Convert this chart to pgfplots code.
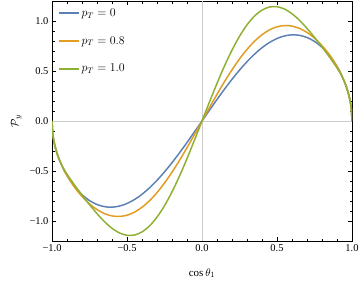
\documentclass[border=0pt]{standalone}
\usepackage{fontspec}
\setmainfont{Liberation Serif}
\usepackage{pgfplots}
\pgfplotsset{compat=1.18}
\definecolor{mblue}{RGB}{94,129,181}
\definecolor{morange}{RGB}{225,156,36}
\definecolor{mgreen}{RGB}{143,176,50}
\begin{document}
\begin{tikzpicture}
\begin{axis}[
  scale only axis,
  width=300bp, height=240bp,
  xmin=-1, xmax=1, ymin=-1.2, ymax=1.2,
  xtick={-1,-0.5,0,0.5,1},
  xticklabels={−1.0,−0.5,0.0,0.5,1.0},
  ytick={-1,-0.5,0,0.5,1},
  yticklabels={−1.0,−0.5,0.0,0.5,1.0},
  minor x tick num=4, minor y tick num=4,
  tick align=inside,
  major tick length=4bp, minor tick length=2.5bp,
  axis line style={line width=0.9pt},
  every tick/.style={black, line width=0.7pt},
  tick label style={font=\fontsize{10.5}{12}\selectfont},
  xlabel={$\cos\theta_1$},
  ylabel={$\mathcal{P}_y$},
  label style={font=\fontsize{11}{13}\selectfont},
  xlabel shift=10bp,
  ylabel shift=1bp,
  legend style={at={(0.008,0.985)}, anchor=north west, draw=none, fill=none,
    row sep=14.5pt, font=\fontsize{12}{14}\selectfont, cells={anchor=west}},
  legend image code/.code={\draw[mark repeat=2,mark phase=2,#1] plot coordinates {(0bp,0bp) (10bp,0bp) (20bp,0bp)};},
  legend image post style={line width=2pt},
  every axis plot/.append style={line width=1.5pt},
]
\addplot[gray!40, line width=0.6pt, forget plot] coordinates {(0,-1.2) (0,1.2)};
\addplot[gray!40, line width=0.6pt, forget plot] coordinates {(-1,0) (1,0)};
\addplot[mblue, smooth] coordinates {
(-1,0) (-0.995,-0.1242) (-0.99,-0.1755) (-0.98,-0.2480) (-0.96,-0.3499) (-0.93,-0.4604)
(-0.9,-0.5456) (-0.85,-0.6553) (-0.8,-0.7367) (-0.75,-0.7957) (-0.7,-0.8352)
(-0.65,-0.8568) (-0.6,-0.8617) (-0.55,-0.8507) (-0.5,-0.8250) (-0.45,-0.7853)
(-0.4,-0.7327) (-0.35,-0.6683) (-0.3,-0.5933) (-0.25,-0.5090) (-0.2,-0.4169)
(-0.15,-0.3184) (-0.1,-0.2150) (-0.05,-0.1083) (0,0)
(0.05,0.1083) (0.1,0.2150) (0.15,0.3184) (0.2,0.4169) (0.25,0.5090) (0.3,0.5933)
(0.35,0.6683) (0.4,0.7327) (0.45,0.7853) (0.5,0.8250) (0.55,0.8507) (0.6,0.8617)
(0.65,0.8568) (0.7,0.8352) (0.75,0.7957) (0.8,0.7367) (0.85,0.6553) (0.9,0.5456)
(0.93,0.4604) (0.96,0.3499) (0.98,0.2480) (0.99,0.1755) (0.995,0.1242) (1,0)
};
\addlegendentry{$p_T = 0$}
\addplot[morange, smooth] coordinates {
(-1,0) (-0.995,-0.1252) (-0.99,-0.1767) (-0.98,-0.2492) (-0.96,-0.3504) (-0.93,-0.4603)
(-0.9,-0.5464) (-0.85,-0.6619) (-0.8,-0.7542) (-0.75,-0.8284) (-0.7,-0.8856)
(-0.65,-0.9261) (-0.6,-0.9492) (-0.55,-0.9546) (-0.5,-0.9420) (-0.45,-0.9112)
(-0.4,-0.8627) (-0.35,-0.7972) (-0.3,-0.7159) (-0.25,-0.6202) (-0.2,-0.5120)
(-0.15,-0.3934) (-0.1,-0.2668) (-0.05,-0.1348) (0,0)
(0.05,0.1348) (0.1,0.2668) (0.15,0.3934) (0.2,0.5120) (0.25,0.6202) (0.3,0.7159)
(0.35,0.7972) (0.4,0.8627) (0.45,0.9112) (0.5,0.9420) (0.55,0.9546) (0.6,0.9492)
(0.65,0.9261) (0.7,0.8856) (0.75,0.8284) (0.8,0.7542) (0.85,0.6619) (0.9,0.5464)
(0.93,0.4603) (0.96,0.3504) (0.98,0.2492) (0.99,0.1767) (0.995,0.1252) (1,0)
};
\addlegendentry{$p_T = 0.8$}
\addplot[mgreen, smooth] coordinates {
(-1,0) (-0.995,-0.1342) (-0.99,-0.1879) (-0.98,-0.2609) (-0.96,-0.3572) (-0.93,-0.4556)
(-0.9,-0.5314) (-0.85,-0.6395) (-0.8,-0.7397) (-0.75,-0.8358) (-0.7,-0.9262)
(-0.65,-1.0068) (-0.6,-1.0727) (-0.55,-1.1194) (-0.5,-1.1428) (-0.45,-1.1400)
(-0.4,-1.1091) (-0.35,-1.0494) (-0.3,-0.9616) (-0.25,-0.8471) (-0.2,-0.7089)
(-0.15,-0.5504) (-0.1,-0.3760) (-0.05,-0.1908) (0,0)
(0.05,0.1908) (0.1,0.3760) (0.15,0.5504) (0.2,0.7089) (0.25,0.8471) (0.3,0.9616)
(0.35,1.0494) (0.4,1.1091) (0.45,1.1400) (0.5,1.1428) (0.55,1.1194) (0.6,1.0727)
(0.65,1.0068) (0.7,0.9262) (0.75,0.8358) (0.8,0.7397) (0.85,0.6395) (0.9,0.5314)
(0.93,0.4556) (0.96,0.3572) (0.98,0.2609) (0.99,0.1879) (0.995,0.1342) (1,0)
};
\addlegendentry{$p_T = 1.0$}
\end{axis}
\pgfresetboundingbox
\path ([xshift=-52bp,yshift=-44bp]current axis.south west) rectangle ([xshift=8bp,yshift=1bp]current axis.north east);
\end{tikzpicture}
\end{document}
